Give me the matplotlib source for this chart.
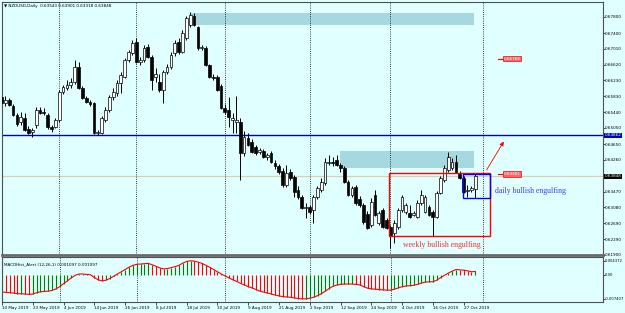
import matplotlib
matplotlib.use('Agg')
import matplotlib.pyplot as plt
from matplotlib.patches import Rectangle

# NZDUSD daily candles (one per trading day, 13 May - 31 Oct 2019)
opens = [
    0.6581, 0.6567, 0.6574, 0.6559, 0.6537, 0.6519, 0.6529, 0.6502, 0.6495, 0.6512,
    0.6549, 0.6544, 0.6537, 0.6507, 0.6507, 0.6524, 0.6594, 0.6604, 0.6611, 0.6619,
    0.6656, 0.6604, 0.6579, 0.6569, 0.6567, 0.6492, 0.6492, 0.6524, 0.6549, 0.6581,
    0.6591, 0.6616, 0.6631, 0.6673, 0.6691, 0.6718, 0.6668, 0.6673, 0.6705, 0.6681,
    0.6631, 0.6619, 0.6599, 0.6643, 0.6656, 0.6691, 0.6718, 0.6693, 0.6728, 0.6760,
    0.6782, 0.6755, 0.6703, 0.6703, 0.6661, 0.6631, 0.6631, 0.6609, 0.6554, 0.6549,
    0.6524, 0.6519, 0.6519, 0.6443, 0.6480, 0.6470, 0.6457, 0.6445, 0.6448, 0.6433,
    0.6443, 0.6418, 0.6410, 0.6398, 0.6363, 0.6395, 0.6383, 0.6351, 0.6333, 0.6306,
    0.6309, 0.6301, 0.6333, 0.6351, 0.6368, 0.6418, 0.6420, 0.6425, 0.6413, 0.6405,
    0.6371, 0.6338, 0.6358, 0.6328, 0.6314, 0.6291, 0.6264, 0.6338, 0.6269, 0.6301,
    0.6276, 0.6259, 0.6244, 0.6259, 0.6301, 0.6296, 0.6294, 0.6289, 0.6284, 0.6319,
    0.6296, 0.6309, 0.6296, 0.6284, 0.6343, 0.6376, 0.6400, 0.6405, 0.6420, 0.6393,
    0.6381, 0.6348, 0.6351, 0.63543]
highs = [
    0.6604, 0.6584, 0.6579, 0.6564, 0.6542, 0.6544, 0.6542, 0.6510, 0.6505, 0.6557,
    0.6557, 0.6554, 0.6542, 0.6512, 0.6529, 0.6599, 0.6611, 0.6624, 0.6629, 0.6673,
    0.6668, 0.6609, 0.6584, 0.6574, 0.6569, 0.6500, 0.6534, 0.6557, 0.6586, 0.6604,
    0.6624, 0.6643, 0.6678, 0.6698, 0.6723, 0.6728, 0.6681, 0.6710, 0.6713, 0.6686,
    0.6653, 0.6638, 0.6648, 0.6663, 0.6693, 0.6723, 0.6728, 0.6748, 0.6782, 0.6792,
    0.6790, 0.6758, 0.6710, 0.6708, 0.6663, 0.6638, 0.6636, 0.6614, 0.6564, 0.6581,
    0.6542, 0.6584, 0.6529, 0.6497, 0.6492, 0.6477, 0.6462, 0.6455, 0.6452, 0.6443,
    0.6448, 0.6425, 0.6415, 0.6405, 0.6413, 0.6403, 0.6388, 0.6361, 0.6338, 0.6319,
    0.6314, 0.6338, 0.6361, 0.6381, 0.6430, 0.6438, 0.6433, 0.6438, 0.6418, 0.6410,
    0.6376, 0.6361, 0.6363, 0.6336, 0.6319, 0.6299, 0.6331, 0.6351, 0.6299, 0.6306,
    0.6281, 0.6264, 0.6276, 0.6306, 0.6338, 0.6319, 0.6314, 0.6299, 0.6326, 0.6351,
    0.6338, 0.6314, 0.6301, 0.6348, 0.6386, 0.6413, 0.6445, 0.6430, 0.6438, 0.6398,
    0.6386, 0.6363, 0.6361, 0.63901]
lows = [
    0.6562, 0.6559, 0.6559, 0.6534, 0.6510, 0.6512, 0.6497, 0.6490, 0.6482, 0.6505,
    0.6539, 0.6537, 0.6502, 0.6495, 0.6505, 0.6519, 0.6589, 0.6599, 0.6604, 0.6614,
    0.6601, 0.6576, 0.6567, 0.6559, 0.6490, 0.6487, 0.6490, 0.6519, 0.6544, 0.6574,
    0.6584, 0.6591, 0.6629, 0.6668, 0.6686, 0.6666, 0.6661, 0.6668, 0.6678, 0.6599,
    0.6619, 0.6594, 0.6567, 0.6638, 0.6651, 0.6683, 0.6688, 0.6691, 0.6723, 0.6755,
    0.6758, 0.6698, 0.6698, 0.6658, 0.6629, 0.6624, 0.6596, 0.6552, 0.6539, 0.6507,
    0.6492, 0.6492, 0.6376, 0.6435, 0.6460, 0.6443, 0.6438, 0.6440, 0.6430, 0.6425,
    0.6418, 0.6403, 0.6390, 0.6358, 0.6358, 0.6376, 0.6333, 0.6328, 0.6304, 0.6281,
    0.6291, 0.6269, 0.6328, 0.6346, 0.6363, 0.6413, 0.6410, 0.6410, 0.6395, 0.6368,
    0.6336, 0.6333, 0.6314, 0.6309, 0.6266, 0.6254, 0.6259, 0.6286, 0.6264, 0.6257,
    0.6254, 0.6207, 0.6219, 0.6254, 0.6296, 0.6291, 0.6281, 0.6286, 0.6281, 0.6314,
    0.6294, 0.6286, 0.6237, 0.6281, 0.6341, 0.6371, 0.6395, 0.6400, 0.6393, 0.6378,
    0.6343, 0.6333, 0.6346, 0.63318]
closes = [
    0.6567, 0.6574, 0.6562, 0.6537, 0.6514, 0.6532, 0.6500, 0.6492, 0.6500, 0.6549,
    0.6542, 0.6542, 0.6507, 0.6502, 0.6524, 0.6594, 0.6606, 0.6611, 0.6619, 0.6656,
    0.6604, 0.6579, 0.6569, 0.6564, 0.6492, 0.6495, 0.6529, 0.6549, 0.6581, 0.6594,
    0.6616, 0.6636, 0.6673, 0.6693, 0.6715, 0.6668, 0.6673, 0.6703, 0.6681, 0.6624,
    0.6638, 0.6599, 0.6643, 0.6656, 0.6686, 0.6715, 0.6693, 0.6740, 0.6777, 0.6785,
    0.6760, 0.6703, 0.6705, 0.6661, 0.6631, 0.6629, 0.6599, 0.6554, 0.6544, 0.6532,
    0.6529, 0.6524, 0.6443, 0.6482, 0.6462, 0.6445, 0.6443, 0.6450, 0.6433, 0.6438,
    0.6420, 0.6410, 0.6395, 0.6363, 0.6393, 0.6381, 0.6346, 0.6333, 0.6306, 0.6309,
    0.6296, 0.6333, 0.6356, 0.6371, 0.6420, 0.6420, 0.6418, 0.6413, 0.6405, 0.6371,
    0.6338, 0.6356, 0.6319, 0.6314, 0.6271, 0.6257, 0.6321, 0.6289, 0.6294, 0.6259,
    0.6257, 0.6239, 0.6269, 0.6301, 0.6333, 0.6314, 0.6284, 0.6294, 0.6319, 0.6338,
    0.6333, 0.6289, 0.6284, 0.6343, 0.6381, 0.6405, 0.6433, 0.6420, 0.6395, 0.6381,
    0.6346, 0.6351, 0.6356, 0.63848]

# MACDHist_Alert(12,26,1) values per bar
macd = [
    -0.0052, -0.0054, -0.0055, -0.0056, -0.0058, -0.0058, -0.0059, -0.0060, -0.0059, -0.0055,
    -0.0052, -0.0051, -0.0050, -0.0048, -0.0043, -0.0036, -0.0027, -0.0018, -0.0009, -0.0001,
    0.0003, 0.0003, 0.0002, 0.0001, -0.0008, -0.0015, -0.0018, -0.0016, -0.0011, -0.0004,
    0.0003, 0.0010, 0.0017, 0.0024, 0.0030, 0.0033, 0.0034, 0.0035, 0.0036, 0.0032,
    0.0027, 0.0022, 0.0019, 0.0020, 0.0023, 0.0026, 0.0030, 0.0037, 0.0042, 0.0044,
    0.0043, 0.0040, 0.0036, 0.0030, 0.0024, 0.0017, 0.0010, 0.0003, -0.0003, -0.0009,
    -0.0015, -0.0020, -0.0026, -0.0031, -0.0036, -0.0040, -0.0045, -0.0050, -0.0053, -0.0056,
    -0.0059, -0.0062, -0.0065, -0.0067, -0.0068, -0.0069, -0.0071, -0.0073, -0.0074, -0.0074,
    -0.0072, -0.0069, -0.0064, -0.0058, -0.0050, -0.0042, -0.0035, -0.0031, -0.0029, -0.0028,
    -0.0028, -0.0028, -0.0029, -0.0031, -0.0036, -0.0041, -0.0043, -0.0044, -0.0045, -0.0046,
    -0.0047, -0.0047, -0.0044, -0.0040, -0.0036, -0.0034, -0.0033, -0.0032, -0.0029, -0.0025,
    -0.0022, -0.0021, -0.0021, -0.0016, -0.0008, -0.0001, 0.0006, 0.0012, 0.0017, 0.0016,
    0.0015, 0.0013, 0.0010, 0.0011]

date_labels = ['10 May 2019', '23 May 2019', '4 Jun 2019', '14 Jun 2019', '26 Jun 2019',
               '8 Jul 2019', '18 Jul 2019', '30 Jul 2019', '9 Aug 2019', '21 Aug 2019',
               '2 Sep 2019', '12 Sep 2019', '24 Sep 2019', '4 Oct 2019', '16 Oct 2019',
               '27 Oct 2019']
month_starts = [15, 35, 58, 80, 101, 125]
price_ticks = [0.67800, 0.67400, 0.67010, 0.66620, 0.66230, 0.65830, 0.65440, 0.65050,
               0.64650, 0.64260, 0.63470, 0.63080, 0.62690, 0.62290, 0.61900]
macd_ticks = [0.004372, 0.0, -0.007407]
macd_tick_labels = ['0.004372', '0.00', '-0.007407']

support = 0.64862
last_price = 0.63848
target_label = 0.66768
high_label = 0.63901
# supply zones: (first bar, last bar, bottom, top)
zone_top = (49.2, 122.7, 0.6760, 0.6790)
zone_mid = (87.9, 122.7, 0.6405, 0.6448)
weekly_box = (100.6, 126.9, 0.6237, 0.6392)
daily_box = (119.9, 126.9, 0.6332, 0.6390)

bg = '#e0ffff'
fs = 3.0
fig = plt.figure(figsize=(6.25, 3.13), dpi=100, facecolor=bg)
ax = fig.add_axes([2 / 625, 1 - 255 / 313, 601 / 625, 253 / 313], facecolor=bg)
axm = fig.add_axes([2 / 625, 1 - 302 / 313, 601 / 625, 45 / 313], facecolor=bg)

# zones behind the candles
for z in (zone_top, zone_mid):
    ax.add_patch(Rectangle((z[0], z[2]), z[1] - z[0], z[3] - z[2],
                           facecolor='#a6d8df', edgecolor='none', zorder=1))

ax.axhline(support, color='#0000c0', lw=1.0, zorder=2)
ax.axhline(last_price, color='#d9d0b4', lw=0.9, zorder=2)

for m in month_starts:
    for a in (ax, axm):
        a.axvline(m, color='black', lw=0.6, ls=(0, (1, 1.6)), zorder=2)

# candles
for i in range(len(closes)):
    o, h, l, c = opens[i], highs[i], lows[i], closes[i]
    ax.vlines(i, l, h, color='black', lw=0.7, zorder=3)
    fill = 'white' if c >= o else 'black'
    ax.add_patch(Rectangle((i - 0.36, min(o, c)), 0.72, abs(c - o),
                           facecolor=fill, edgecolor='black', lw=0.5, zorder=4))

for b, col in ((weekly_box, 'red'), (daily_box, '#0000ff')):
    ax.add_patch(Rectangle((b[0], b[2]), b[1] - b[0], b[3] - b[2],
                           facecolor='none', edgecolor=col, lw=1.0, zorder=5))

ax.annotate('', xy=(130.8, 0.6477), xytext=(125.6, 0.6395),
            arrowprops=dict(arrowstyle='-|>', color='red', lw=0.6, mutation_scale=6),
            zorder=5)

for val in (target_label, high_label):
    ax.plot([129.0, 130.3], [val, val], color='red', lw=0.8, zorder=5)
    ax.text(130.4, val, f'{val:.5f}', fontsize=fs, color='white', va='center', ha='left',
            bbox=dict(facecolor='#f06a6a', edgecolor='red', pad=0.6, lw=0.5), zorder=6)

ax.text(128.2, 0.6348, 'daily bullish engulfing', fontsize=5.6, color='#3a3aff',
        family='Liberation Serif', va='center', ha='left')
ax.text(104.3, 0.6216, 'weekly bullish engulfing', fontsize=5.6, color='#ff2a2a',
        family='Liberation Serif', va='center', ha='left')

ax.text(0.004, 0.993, '\u25bc NZDUSD,Daily  0.63543 0.63901 0.63318 0.63848',
        transform=ax.transAxes, fontsize=fs, va='top', ha='left')

ax.set_xlim(0.13, 156.2)
ax.set_ylim(0.6190, 0.6817)
ax.set_xticks([])
ax.yaxis.tick_right()
ax.set_yticks(price_ticks)
ax.set_yticklabels([f'{t:.5f}' for t in price_ticks])
ax.tick_params(axis='y', labelsize=fs, length=1.2, width=0.5, pad=0.4)

yt = ax.get_yaxis_transform()
ax.text(1.003, support, f'{support:.5f}', transform=yt, fontsize=fs, color='white',
        va='center', ha='left', bbox=dict(facecolor='#0000c0', edgecolor='none', pad=0.4))
ax.text(1.003, last_price, f'{last_price:.5f}', transform=yt, fontsize=fs, color='white',
        va='center', ha='left', bbox=dict(facecolor='black', edgecolor='none', pad=0.4))

# MACD pane
x = list(range(len(macd)))
cols = ['#008000' if i > 0 and macd[i] >= macd[i - 1] else '#ff0000' for i in x]
axm.vlines(x, 0, macd, colors=cols, lw=0.8)
axm.plot(x, macd, color='#ff0000', lw=0.8)
axm.text(0.004, 0.88, 'MACDHist_Alert (12,26,1) 0.001097 0.001097', transform=axm.transAxes,
         fontsize=fs, va='top', ha='left')
axm.set_xlim(0.13, 156.2)
axm.set_ylim(-0.00837, 0.00558)
axm.yaxis.tick_right()
axm.set_yticks(macd_ticks)
axm.set_yticklabels(macd_tick_labels)
axm.tick_params(axis='y', labelsize=2.7, length=1.2, width=0.5, pad=0.4)
axm.set_xticks([8 * k for k in range(len(date_labels))])
axm.set_xticklabels(date_labels)
axm.tick_params(axis='x', labelsize=fs, length=2, width=0.5, pad=1)
for lab in axm.get_xticklabels():
    lab.set_horizontalalignment('left')

for a in (ax, axm):
    for s in a.spines.values():
        s.set_color('#505050')
        s.set_linewidth(0.8)
ax.spines['bottom'].set_color('#6a6a6a')
ax.spines['bottom'].set_linewidth(2.0)

fig.savefig('out.png', dpi=100, facecolor=bg)
